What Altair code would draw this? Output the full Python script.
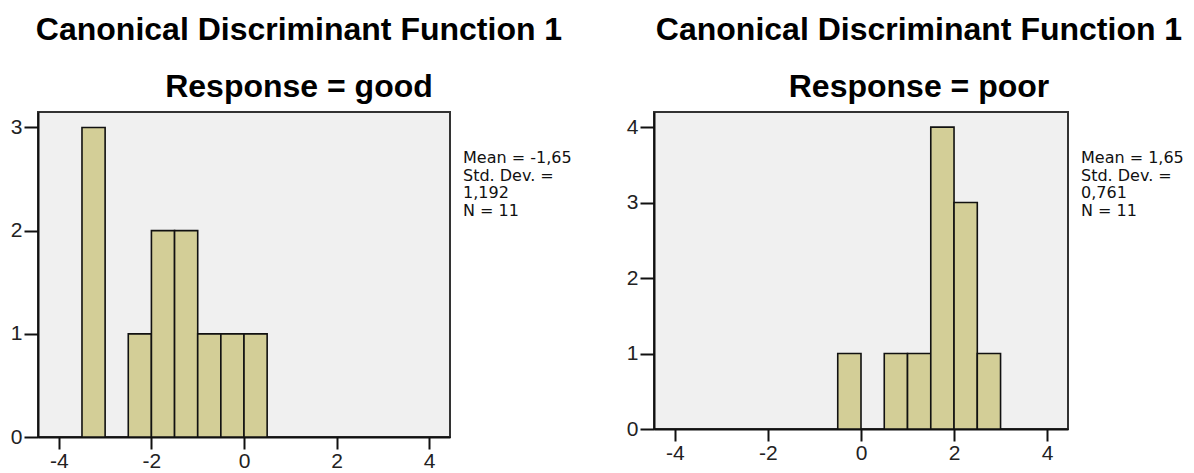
import altair as alt
import pandas as pd

# ---- data ----
BIN = 0.5
good_bin_start = [-3.5, -2.5, -2.0, -1.5, -1.0, -0.5, 0.0]
good_count = [3, 1, 2, 2, 1, 1, 1]
poor_bin_start = [-0.5, 0.5, 1.0, 1.5, 2.0, 2.5]
poor_count = [1, 1, 1, 4, 3, 1]
x_ticks = [-4, -2, 0, 2, 4]
good_y_ticks = [0, 1, 2, 3]
poor_y_ticks = [0, 1, 2, 3, 4]
good_stats = ["Mean = -1,65", "Std. Dev. =", "1,192", "N = 11"]
poor_stats = ["Mean = 1,65", "Std. Dev. =", "0,761", "N = 11"]
main_title = "Canonical Discriminant Function 1"

BAR_FILL = "#d3ce97"


def panel(starts, counts, ymax, yticks, w, h, subtitle, stats, dx):
    df = pd.DataFrame({
        "start": starts,
        "end": [s + BIN for s in starts],
        "count": counts,
        "zero": [0] * len(starts),
    })
    bars = alt.Chart(df).mark_rect(
        fill=BAR_FILL, stroke="#111111", strokeWidth=1.6
    ).encode(
        x=alt.X("start:Q",
                scale=alt.Scale(domain=[-4.45, 4.45], nice=False, zero=False),
                axis=alt.Axis(values=x_ticks, title=None, labelPadding=1,
                              tickSize=12, labelBaseline="top",
                              labelExpr="'' + datum.value")),
        x2="end:Q",
        y=alt.Y("count:Q",
                scale=alt.Scale(domain=[0, ymax], nice=False),
                axis=alt.Axis(values=yticks, title=None, labelPadding=2,
                              tickSize=14, labelExpr="'' + datum.value")),
        y2="zero:Q",
    )
    txt = alt.Chart(pd.DataFrame({"a": [0]})).mark_text(
        text=stats, align="left", baseline="top", font="DejaVu Sans",
        fontSize=16, lineHeight=17.5, color="#111111"
    ).encode(x=alt.value(w + 13), y=alt.value(38))
    return alt.layer(bars, txt).properties(
        width=w, height=h,
        title=alt.TitleParams(
            text=main_title, subtitle=subtitle,
            font="Liberation Sans", subtitleFont="Liberation Sans",
            fontSize=32, subtitleFontSize=32,
            fontWeight="bold", subtitleFontWeight="bold",
            color="black", subtitleColor="black",
            anchor="middle", frame="group", dx=dx,
            subtitlePadding=25, offset=8,
        ),
    )


left = panel(good_bin_start, good_count, 3.15, good_y_ticks, 412, 325,
             "Response = good", good_stats, 55)
right = panel(poor_bin_start, poor_count, 4.2, poor_y_ticks, 414, 317,
              "Response = poor", poor_stats, 58)

chart = alt.hconcat(left, right, spacing=52).properties(
    padding={"left": 9, "top": 13, "right": 0, "bottom": 0},
    background="white",
).configure_view(
    fill="#f0f0f0", stroke="#333333", strokeWidth=2
).configure_axis(
    grid=False, domainColor="#111111", domainWidth=2,
    tickColor="#111111", tickWidth=2,
    labelFont="Liberation Sans", labelFontSize=21, labelColor="#222222",
)

chart.save("out.html", embed_options={"renderer": "svg", "actions": False})
